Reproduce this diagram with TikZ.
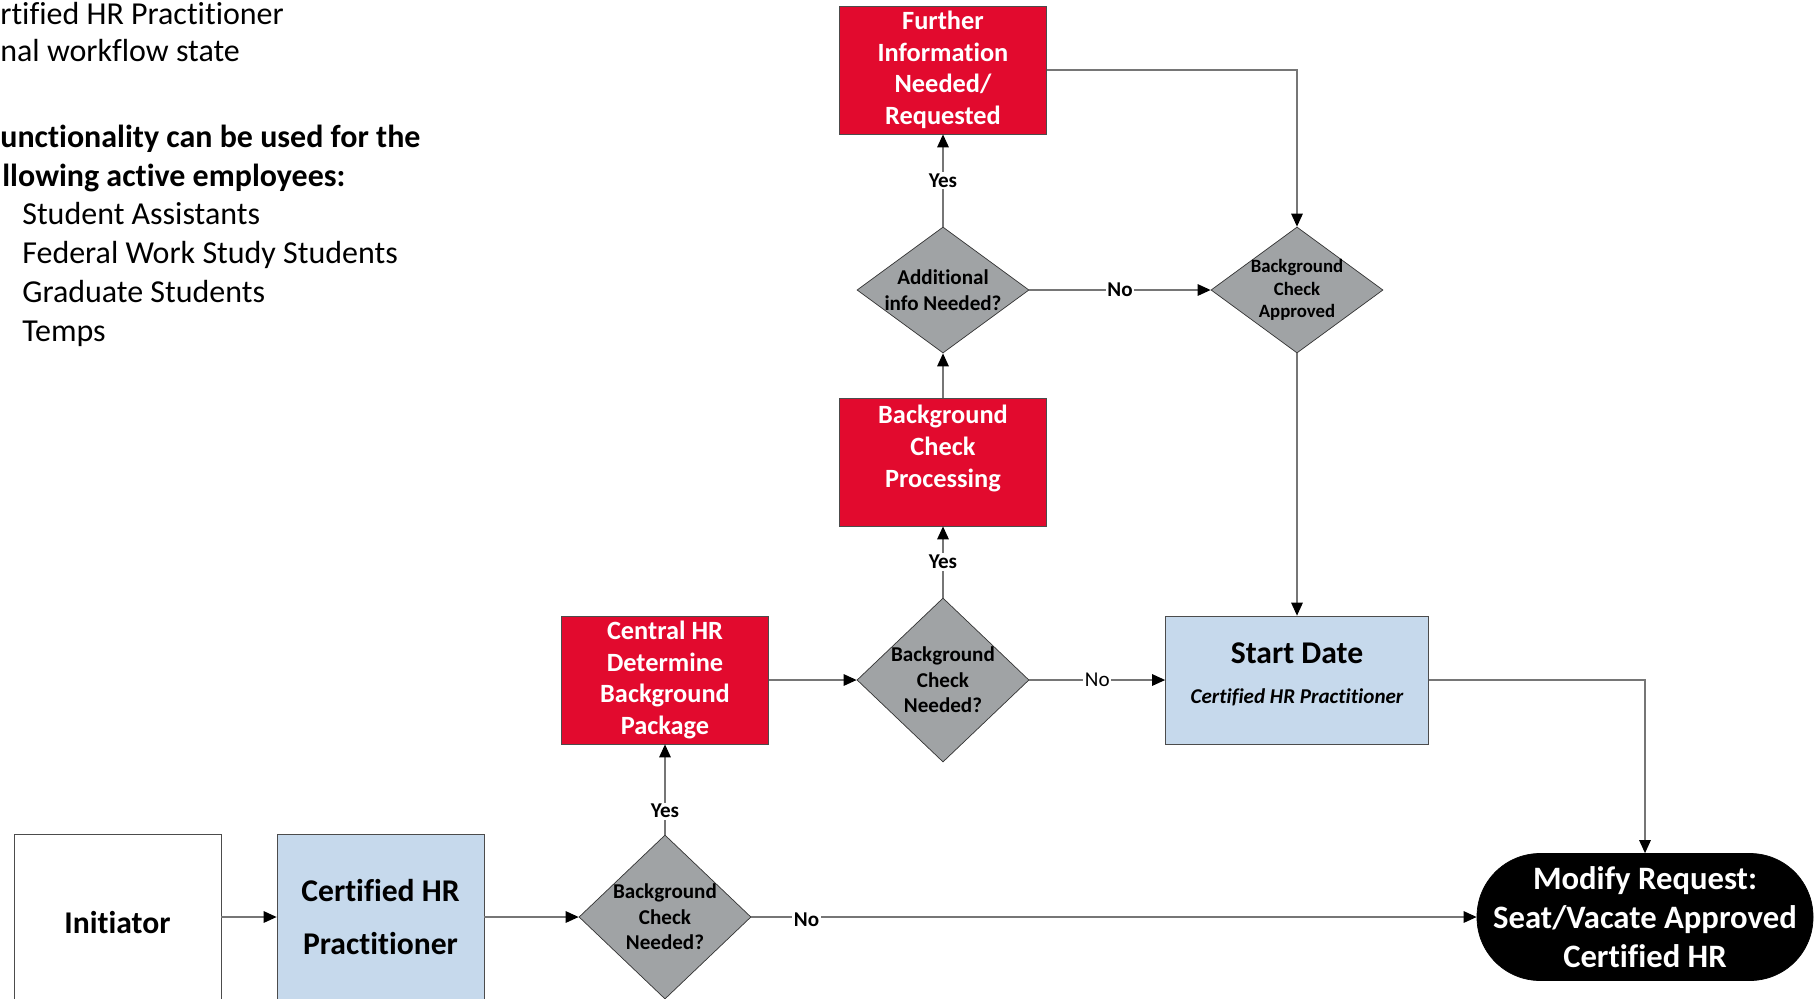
\documentclass[tikz,border=0pt]{standalone}
\usepackage{fontspec}
\setmainfont{Carlito}[Ligatures=NoCommon]
\usetikzlibrary{arrows.meta,shapes.geometric}

\definecolor{hrred}{RGB}{226,10,46}
\definecolor{hrblue}{RGB}{198,217,236}
\definecolor{hrgrey}{RGB}{160,163,165}
\definecolor{linegrey}{RGB}{118,118,118}

\begin{document}
\begin{tikzpicture}[x=0.2mm,y=-0.2mm]

\tikzstyle{line} = [draw=linegrey, line width=0.8pt, -{Triangle[length=2.6mm,width=2.3mm,color=black]}]
\tikzstyle{redbox} = [draw=black!70, fill=hrred, text=white, font=\fontsize{15}{18}\selectfont\bfseries, align=center, minimum width=41.4mm, minimum height=25.6mm, inner sep=0pt]
\tikzstyle{bluebox} = [draw=black!70, fill=hrblue, align=center, inner sep=0pt]
\tikzstyle{decision} = [draw=black!80, fill=hrgrey, diamond, minimum width=34.4mm, minimum height=32.8mm, inner sep=0pt]
\tikzstyle{dtext} = [font=\fontsize{12}{14.5}\selectfont\bfseries, align=center, inner sep=0pt]
\tikzstyle{yesno} = [fill=white, inner sep=1pt, font=\fontsize{12}{14}\selectfont\bfseries]
\tikzstyle{note} = [anchor=base west, inner sep=0pt, font=\fontsize{18.2}{22}\selectfont]

\useasboundingbox (0,0) rectangle (1816,998);
\clip (0,0) rectangle (1816,998);

%notes
\node [note] (note1) at (0,24) {rtified HR Practitioner};
\node [note] (note2) at (0,61) {nal workflow state};
\node [note, font=\fontsize{18.2}{22}\selectfont\bfseries] (note3) at (0,147) {unctionality can be used for the};
\node [note, font=\fontsize{18.2}{22}\selectfont\bfseries] (note4) at (2,186) {llowing active employees:};
\node [note] (note5) at (22,224) {Student Assistants};
\node [note] (note6) at (22,263) {Federal Work Study Students};
\node [note] (note7) at (22,302) {Graduate Students};
\node [note] (note8) at (22,341) {Temps};

%boxes
\node [draw=black!70, fill=white, minimum width=41.4mm, minimum height=33.2mm, label={[font=\fontsize{18}{22}\selectfont\bfseries, yshift=-3.4pt]center:Initiator}] (init) at (117.5,917) {};
\node [bluebox, minimum width=41.4mm, minimum height=33.2mm, font=\fontsize{18}{30}\selectfont\bfseries] (cert) at (380.5,917) {Certified HR\\Practitioner};
\node [decision, label={[dtext]center:{Background\\Check\\Needed?}}] (chk1) at (665,917) {};
\node [redbox] (central) at (665,680) {Central HR\\Determine\\Background\\Package};
\node [decision, label={[dtext]center:{Background\\Check\\Needed?}}] (chk2) at (943,680) {};
\node [bluebox, minimum width=52.6mm, minimum height=25.6mm] (start) at (1297,680) {{\fontsize{18}{22}\selectfont\bfseries Start Date}\\[11pt]{\fontsize{12}{14}\selectfont\bfseries\itshape Certified HR Practitioner}\\[-4pt]~};
\node [rectangle, rounded corners=12.6mm, draw=black, fill=black, text=white, align=center, minimum width=67.2mm, minimum height=25.4mm, inner sep=0pt, font=\fontsize{18.6}{22}\selectfont\bfseries] (modify) at (1645,917) {Modify Request:\\Seat/Vacate Approved\\Certified HR};
\node [redbox] (proc) at (943,462) {Background\\Check\\Processing\\~};
\node [decision, minimum height=25.2mm, label={[dtext]center:{Additional\\info Needed?}}] (chk3) at (943,290) {};
\node [redbox] (further) at (943,70) {Further\\Information\\Needed/\\Requested};
\node [decision, minimum height=25.2mm, label={[dtext, font=\fontsize{10.7}{12.8}\selectfont\bfseries]center:{Background\\Check\\Approved}}] (chk4) at (1297,290) {};

%arrows
\path [line] (init) -- (cert);
\path [line] (cert) -- (chk1);
\path [line] (chk1) -- node[yesno, pos=0.26] {Yes} (central);
\path [line] (chk1) -- node[yesno, pos=0.076, yshift=-1.5pt] {No} (modify);
\path [line] (central) -- (chk2);
\path [line] (chk2) -- node[yesno, font=\fontsize{12}{14}\selectfont] {No} (start);
\path [line] (chk2) -- node[yesno] {Yes} (proc);
\path [line] (proc) -- (chk3);
\path [line] (chk3) -- node[yesno] {Yes} (further);
\path [line] (chk3) -- node[yesno] {No} (chk4);
\path [line] (further) -| (chk4);
\path [line] (chk4) -- (start);
\path [line] (start) -| (modify);
\end{tikzpicture}
\end{document}
